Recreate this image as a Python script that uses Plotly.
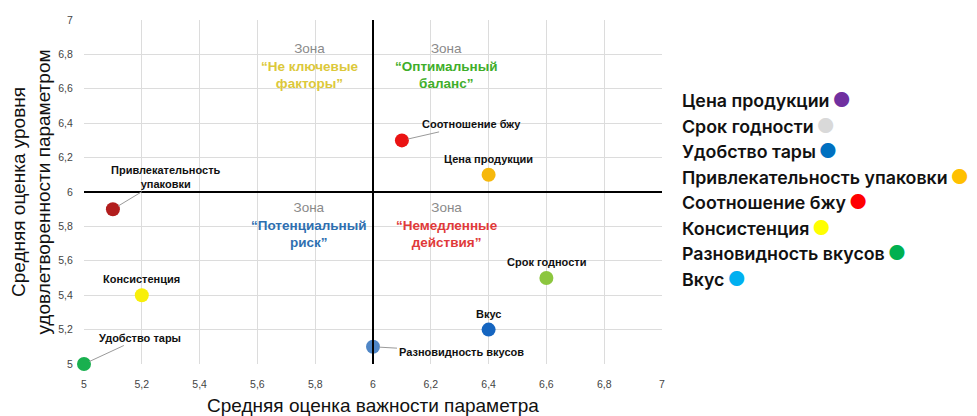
import plotly.graph_objects as go

# ---- data ----
params = ["Цена продукции", "Срок годности", "Удобство тары", "Привлекательность<br>упаковки",
          "Соотношение бжу", "Консистенция", "Разновидность вкусов", "Вкус"]
importance = [6.4, 6.6, 5.0, 5.1, 6.1, 5.2, 6.0, 6.4]
satisfaction = [6.1, 5.5, 5.0, 5.9, 6.3, 5.4, 5.1, 5.2]
point_colors = ["#f6b80c", "#8cc63f", "#19b04f", "#b21d1d", "#ea1313", "#f8ef0a", "#4f86c6", "#1565c0"]

legend_names = ["Цена продукции", "Срок годности", "Удобство тары", "Привлекательность упаковки",
                "Соотношение бжу", "Консистенция", "Разновидность вкусов", "Вкус"]
legend_colors = ["#7030a0", "#d9d9d9", "#0070c0", "#ffc000", "#ff0000", "#ffff00", "#00b050", "#00b0f0"]

zone_titles = ["“Не ключевые<br>факторы”", "“Оптимальный<br>баланс”",
               "“Потенциальный<br>риск”", "“Немедленные<br>действия”"]
zone_colors = ["#dcc83a", "#3fae2a", "#2e6fb0", "#e03a3a"]
zone_x = [5.78, 6.255, 5.78, 6.255]
zone_y = [6.73, 6.73, 5.81, 5.81]

x_ticks = [5, 5.2, 5.4, 5.6, 5.8, 6, 6.2, 6.4, 6.6, 6.8, 7]
y_ticks = [5, 5.2, 5.4, 5.6, 5.8, 6, 6.2, 6.4, 6.6, 6.8, 7]
threshold_x = 6
threshold_y = 6

# label placement (pixel offsets) per point: (ax, ay, arrow)
label_style = [
    (0, -16, False),
    (0, -16, False),
    (56, -26, True),
    (53, -32, True),
    (70, -16, True),
    (0, -16, False),
    (88, 5, True),
    (0, -16, False),
]

fig = go.Figure()
fig.add_trace(go.Scatter(
    x=importance, y=satisfaction, mode="markers",
    marker=dict(size=14, color=point_colors, line=dict(width=0)),
    cliponaxis=False, showlegend=False, hoverinfo="skip"))

label_font = dict(family="Liberation Sans", size=11, color="#111111", weight="bold")
annotations = []
for name, xv, yv, (ax, ay, arr) in zip(params, importance, satisfaction, label_style):
    if arr:
        annotations.append(dict(x=xv, y=yv, xref="x", yref="y", text=name, showarrow=True,
                                ax=ax, ay=ay, arrowhead=0, arrowwidth=1, arrowcolor="#9a9a9a",
                                standoff=6, font=label_font))
    else:
        annotations.append(dict(x=xv, y=yv, xref="x", yref="y", text=name, showarrow=False,
                                yshift=-ay, font=label_font))

for t, c, zx, zy in zip(zone_titles, zone_colors, zone_x, zone_y):
    annotations.append(dict(x=zx, y=zy, xref="x", yref="y", showarrow=False,
                            text="<span style='color:#8a8a8a'>Зона</span><br>"
                                 + f"<span style='color:{c};font-weight:bold'>{t}</span>",
                            font=dict(family="Liberation Sans", size=13.5)))

# legend (text + coloured dot after it)
ly0, lstep = 0.767, 0.0741
for i, (n, c) in enumerate(zip(legend_names, legend_colors)):
    annotations.append(dict(x=1.032, y=ly0 - i * lstep, xref="paper", yref="paper",
                            xanchor="left", yanchor="middle", showarrow=False,
                            text=f"{n}&#8201;<span style='color:{c};font-size:20px'>●</span>",
                            font=dict(family="Inter", size=17.8, color="#111111", weight=600)))

shapes = [
    dict(type="line", xref="x", yref="y", x0=threshold_x, x1=threshold_x, y0=5, y1=7,
         line=dict(color="#000000", width=2), layer="above"),
    dict(type="line", xref="x", yref="y", x0=5, x1=7, y0=threshold_y, y1=threshold_y,
         line=dict(color="#000000", width=2), layer="above"),
]

tick_font = dict(family="Liberation Sans", size=10.5, color="#444444")
fig.update_layout(
    width=969, height=408, autosize=False,
    margin=dict(l=76, r=315, t=12, b=52, autoexpand=False),
    paper_bgcolor="white", plot_bgcolor="white",
    separators=", ",
    annotations=annotations, shapes=shapes,
    font=dict(family="Liberation Sans"),
    xaxis=dict(range=[5, 7], tickvals=x_ticks, showgrid=True, gridcolor="#dcdcdc", gridwidth=1,
               zeroline=False, showline=False, ticks="outside", ticklen=10, tickcolor="rgba(0,0,0,0)",
               tickfont=tick_font, automargin=False,
               title=dict(text="Средняя оценка важности параметра", standoff=10,
                          font=dict(family="Liberation Sans", size=19, color="#111111"))),
    yaxis=dict(range=[5, 7], tickvals=y_ticks, showgrid=True, gridcolor="#dcdcdc", gridwidth=1,
               zeroline=False, showline=False, ticks="outside", ticklen=8, tickcolor="rgba(0,0,0,0)",
               tickfont=tick_font, automargin=False,
               title=dict(text="Средняя оценка уровня<br>удовлетворенности параметром", standoff=6,
                          font=dict(family="Liberation Sans", size=19, color="#111111"))),
)

fig.write_html("out.html")
